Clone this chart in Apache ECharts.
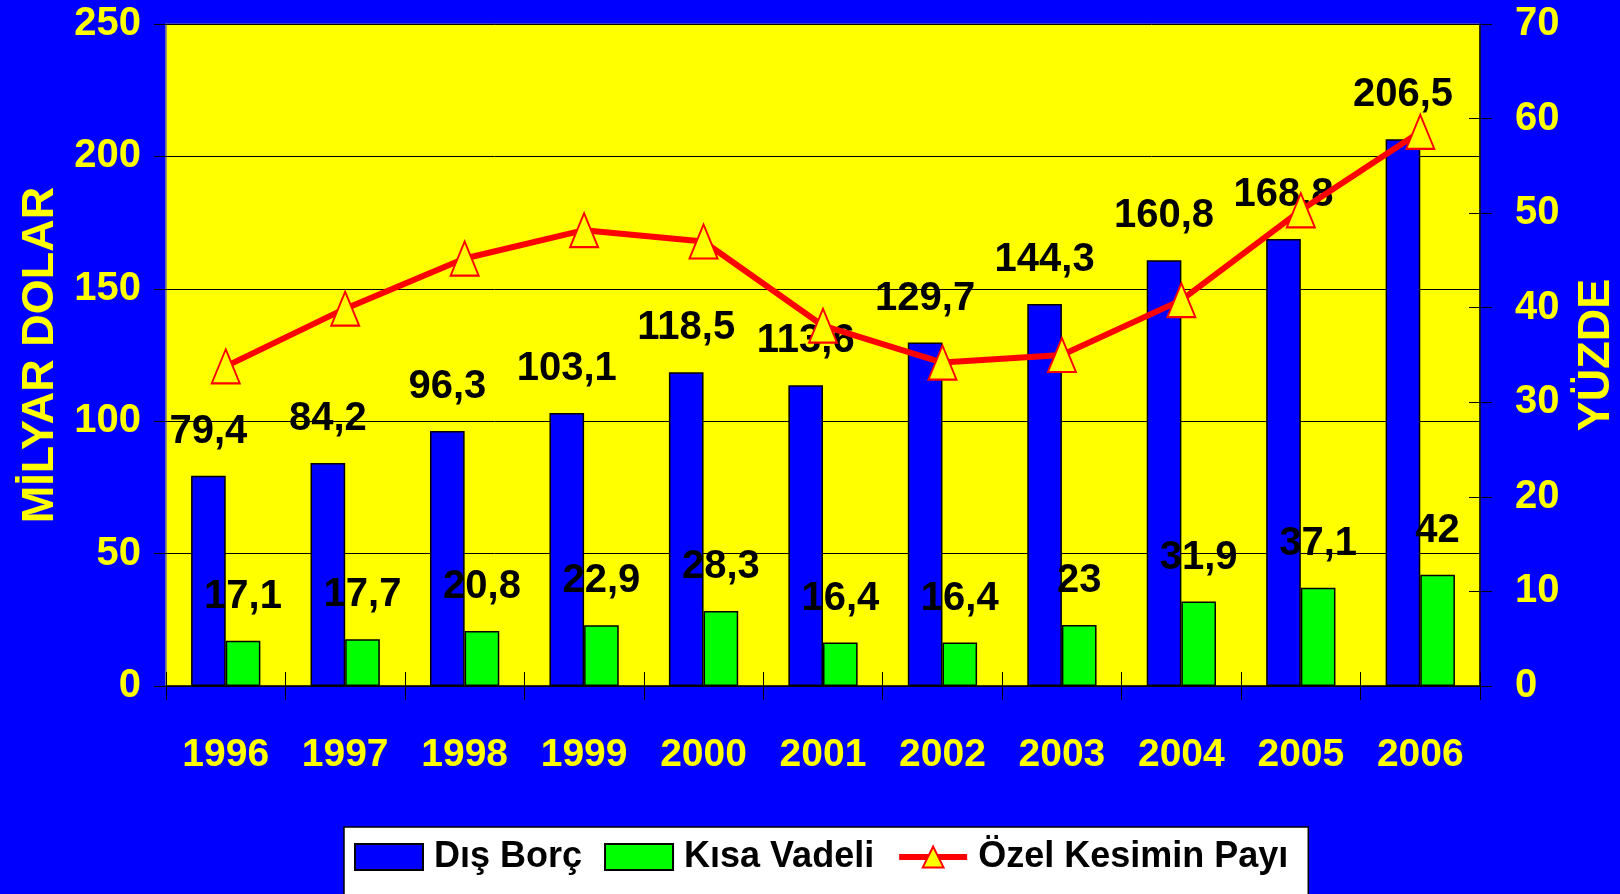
<!DOCTYPE html>
<html>
<head>
<meta charset="utf-8">
<script src="https://cdn.jsdelivr.net/npm/echarts@6/dist/echarts.min.js"></script>
<style>
html,body{margin:0;padding:0;background:#0000FF;}
#chart{width:1620px;height:894px;}
</style>
</head>
<body>
<div id="chart"></div>
<script>
const years = ['1996','1997','1998','1999','2000','2001','2002','2003','2004','2005','2006'];
const disBorc = [79.4, 84.2, 96.3, 103.1, 118.5, 113.6, 129.7, 144.3, 160.8, 168.8, 206.5];
const kisaVadeli = [17.1, 17.7, 20.8, 22.9, 28.3, 16.4, 16.4, 23, 31.9, 37.1, 42];
const ozelPay = [33.8, 39.9, 45.2, 48.2, 47.0, 38.1, 34.2, 35.0, 40.8, 50.3, 58.6];
const seriesNames = ['Dış Borç', 'Kısa Vadeli', 'Özel Kesimin Payı'];
const leftAxisName = 'MİLYAR DOLAR';
const rightAxisName = 'YÜZDE';

const FONT = "'Liberation Sans',Arial,sans-serif";
const fmt = p => String(p.value).replace('.', ',');

const chart = echarts.init(document.getElementById('chart'));
const barLabel = {
  show: true, position: 'top', distance: 24, color: '#000',
  fontSize: 40, fontWeight: 'bold', fontFamily: FONT, formatter: fmt
};
chart.setOption({
  backgroundColor: '#0000FF',
  animation: false,
  textStyle: { fontFamily: FONT },
  grid: {
    left: 166, right: 140, top: 24, bottom: 208,
    outerBoundsMode: 'none', containLabel: false,
    show: true, backgroundColor: '#FFFF00', borderColor: '#808080', borderWidth: 1
  },
  legend: {
    left: 344, top: 827,
    data: [
      { name: seriesNames[0], icon: 'rect' },
      { name: seriesNames[1], icon: 'rect' },
      { name: seriesNames[2],
        itemStyle: { color: '#FFFF00', borderColor: '#FF0000', borderWidth: 2 },
        lineStyle: { color: '#FF0000', width: 6 } }
    ],
    backgroundColor: '#FFFFFF', borderColor: '#000', borderWidth: 1.5,
    padding: [12, 20, 40, 10],
    itemWidth: 68, itemHeight: 26, itemGap: 22,
    textStyle: { color: '#000', fontSize: 36, fontWeight: 'bold', fontFamily: FONT, padding: [0, 0, 0, 6] }
  },
  xAxis: [{
    type: 'category', data: years, position: 'bottom',
    axisLine: { show: true, lineStyle: { color: '#000', width: 1.5 } },
    axisTick: { show: true, length: 14, lineStyle: { color: '#000', width: 1 } },
    axisLabel: { interval: 0, color: '#FFFF00', fontSize: 39, fontWeight: 'bold', fontFamily: FONT, margin: 50 },
    splitLine: { show: false }
  }, {
    type: 'category', data: years, position: 'bottom',
    axisLine: { show: false },
    axisTick: { show: true, inside: true, length: 14, lineStyle: { color: '#000', width: 1 } },
    axisLabel: { show: false }, splitLine: { show: false }
  }],
  yAxis: [{
    type: 'value', position: 'left', min: 0, max: 250, interval: 50,
    name: leftAxisName, nameLocation: 'middle', nameRotate: 90, nameGap: 96,
    nameTextStyle: { color: '#FFFF00', fontSize: 45, fontWeight: 'bold', fontFamily: FONT },
    axisLine: { show: true, lineStyle: { color: '#808080', width: 1.5 } },
    axisTick: { show: true, length: 12, lineStyle: { color: '#000', width: 1 } },
    axisLabel: { color: '#FFFF00', fontSize: 40, fontWeight: 'bold', fontFamily: FONT, margin: 25 },
    splitLine: { show: true, lineStyle: { color: '#000', width: 1 } }
  }, {
    type: 'value', position: 'right', min: 0, max: 70, interval: 10,
    name: rightAxisName, nameLocation: 'middle', nameRotate: 90, nameGap: 94,
    nameTextStyle: { color: '#FFFF00', fontSize: 45, fontWeight: 'bold', fontFamily: FONT },
    axisLine: { show: true, lineStyle: { color: '#000', width: 1.5 } },
    axisTick: { show: true, length: 12, lineStyle: { color: '#000', width: 1 } },
    axisLabel: { color: '#FFFF00', fontSize: 40, fontWeight: 'bold', fontFamily: FONT, margin: 35 },
    splitLine: { show: false }
  }, {
    type: 'value', position: 'left', min: 0, max: 250, interval: 50,
    axisLine: { show: false }, axisLabel: { show: false }, splitLine: { show: false },
    axisTick: { show: true, inside: true, length: 11, lineStyle: { color: '#000', width: 1 } }
  }, {
    type: 'value', position: 'right', min: 0, max: 70, interval: 10,
    axisLine: { show: false }, axisLabel: { show: false }, splitLine: { show: false },
    axisTick: { show: true, inside: true, length: 11, lineStyle: { color: '#000', width: 1 } }
  }],
  series: [{
    name: seriesNames[0], type: 'bar', data: disBorc, yAxisIndex: 0,
    barGap: '0%', barCategoryGap: '42%',
    itemStyle: { color: '#0000FF', borderColor: '#000', borderWidth: 1.5 },
    label: barLabel
  }, {
    name: seriesNames[1], type: 'bar', data: kisaVadeli, yAxisIndex: 0,
    barGap: '0%', barCategoryGap: '42%',
    itemStyle: { color: '#00FF00', borderColor: '#000', borderWidth: 1.5 },
    label: barLabel
  }, {
    name: seriesNames[2], type: 'line', data: ozelPay, yAxisIndex: 1,
    symbol: 'triangle', symbolSize: [28, 34], z: 3,
    lineStyle: { color: '#FF0000', width: 6 },
    itemStyle: { color: '#FFFF00', borderColor: '#FF0000', borderWidth: 2 }
  }]
});
</script>
</body>
</html>
